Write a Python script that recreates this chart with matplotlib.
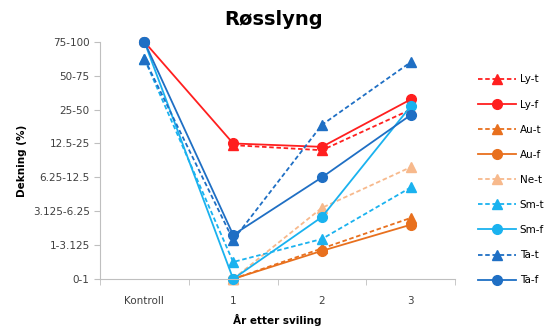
import matplotlib.pyplot as plt
import numpy as np

nan = np.nan

categories = ['Kontroll', '1', '2', '3']
cover_labels = ['0-1', '1-3.125', '3.125-6.25', '6.25-12.5', '12.5-25', '25-50', '50-75', '75-100']

# cover class index (0 = '0-1', 7 = '75-100')
ly_t = [nan, 3.95, 3.8, 5.0]
ly_f = [7.0, 4.0, 3.9, 5.3]
au_t = [nan, 0.0, 0.9, 1.8]
au_f = [nan, 0.0, 0.83, 1.6]
ne_t = [nan, 0.0, 2.1, 3.3]
sm_t = [6.5, 0.5, 1.18, 2.7]
sm_f = [7.0, 0.0, 1.83, 5.1]
ta_t = [6.5, 1.15, 4.55, 6.4]
ta_f = [7.0, 1.3, 3.0, 4.84]

series = [
    ('Ly-t', ly_t, '#ff1f1f', '--', '^'),
    ('Ly-f', ly_f, '#ff1f1f', '-', 'o'),
    ('Au-t', au_t, '#e8701e', '--', '^'),
    ('Au-f', au_f, '#e8701e', '-', 'o'),
    ('Ne-t', ne_t, '#f7b98c', '--', '^'),
    ('Sm-t', sm_t, '#1ab2ef', '--', '^'),
    ('Sm-f', sm_f, '#1ab2ef', '-', 'o'),
    ('Ta-t', ta_t, '#1f6fc4', '--', '^'),
    ('Ta-f', ta_f, '#1f6fc4', '-', 'o'),
]

fig = plt.figure(figsize=(5.48, 3.27), dpi=100)
ax = fig.add_axes([0.1825, 0.147, 0.648, 0.725])

x = np.arange(len(categories))
for name, vals, col, ls, mk in series:
    ax.plot(x, vals, color=col, linestyle=ls, marker=mk, markersize=7,
            linewidth=1.3, label=name, clip_on=False, dashes=(2.5, 1.5) if ls == '--' else (None, None))

ax.set_xlim(-0.5, 3.5)
ax.set_ylim(0, 7)
ax.set_xticks(x)
ax.set_xticklabels(categories)
ax.set_xticks(np.arange(-0.5, 3.6, 1), minor=True)
ax.set_yticks(np.arange(8))
ax.set_yticklabels(cover_labels)
ax.tick_params(axis='x', which='major', length=0, pad=12, labelsize=7.5, labelcolor='#404040')
ax.tick_params(axis='x', which='minor', length=4, color='#bfbfbf')
ax.tick_params(axis='y', length=4, color='#bfbfbf', labelsize=7.5, labelcolor='#404040')

for s in ['top', 'right']:
    ax.spines[s].set_visible(False)
for s in ['left', 'bottom']:
    ax.spines[s].set_color('#bfbfbf')

ax.set_title('Røsslyng', fontsize=14, fontweight='bold', pad=12, x=0.49)
ax.set_xlabel('År etter sviling', fontsize=7.5, fontweight='bold', labelpad=6)
ax.set_ylabel('Dekning (%)', fontsize=7.5, fontweight='bold', labelpad=4)

fig.legend(loc='upper left', bbox_to_anchor=(0.865, 0.785), frameon=False, fontsize=7.5,
           handlelength=3.6, handletextpad=0.4, labelspacing=1.45, borderaxespad=0)

fig.savefig('out.png', dpi=100)
